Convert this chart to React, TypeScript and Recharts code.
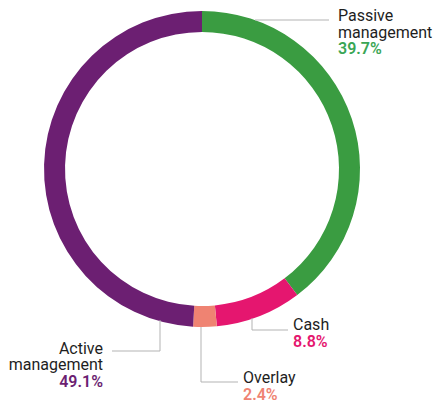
import React from "react";
import { PieChart, Pie, Cell } from "recharts";

const categories = ["Passive management", "Cash", "Overlay", "Active management"];
const values = [39.7, 8.8, 2.4, 49.1];
const valueLabels = ["39.7%", "8.8%", "2.4%", "49.1%"];

const colors = ["#3a9c41", "#e5166f", "#ef8372", "#6c1f72"];
const textColors = ["#3aa655", "#e5166f", "#ef8372", "#6c1f72"];

const data = categories.map((name, i) => ({ name, value: values[i] }));

type LabelLayout = {
  line: number[][];
  x: number;
  y: number;
  anchor: "start" | "end";
  lines: string[];
};

const labelLayout: LabelLayout[] = [
  { line: [[255, 20], [329, 20]], x: 338, y: 21, anchor: "start", lines: ["Passive", "management"] },
  { line: [[252, 318], [252, 330], [288, 330]], x: 293, y: 330, anchor: "start", lines: ["Cash"] },
  { line: [[201, 327], [201, 382], [238, 382]], x: 243, y: 383, anchor: "start", lines: ["Overlay"] },
  { line: [[160, 320], [160, 351], [112, 351]], x: 103, y: 353.5, anchor: "end", lines: ["Active", "management"] },
];

const LH = 16.6;

const renderLabel = (props: any) => {
  const i = props.index as number;
  const l = labelLayout[i];
  const pts = l.line.map((p) => p.join(",")).join(" ");
  const all = [...l.lines, valueLabels[i]];
  return (
    <g key={`lbl-${i}`}>
      <polyline points={pts} fill="none" stroke="#b3b3b3" strokeWidth={1} />
      {all.map((t, k) => {
        const isVal = k === all.length - 1;
        return (
          <text
            key={k}
            x={l.x}
            y={l.y + k * LH}
            textAnchor={l.anchor}
            fontFamily="Roboto, sans-serif"
            fontSize={16}
            fontWeight={isVal ? 600 : 400}
            fill={isVal ? textColors[i] : "#1e1e1e"}
          >
            {t}
          </text>
        );
      })}
    </g>
  );
};

export default function App() {
  return (
    <div style={{ position: "absolute", left: 0, top: 0, width: 435, height: 403, background: "#fff" }}>
      <PieChart width={435} height={403} margin={{ top: 0, right: 0, bottom: 0, left: 0 }}>
        <Pie
          data={data}
          dataKey="value"
          nameKey="name"
          cx={202}
          cy={169}
          innerRadius={137}
          outerRadius={158}
          startAngle={90}
          endAngle={-270}
          stroke="none"
          isAnimationActive={false}
          label={renderLabel}
          labelLine={false}
        >
          {data.map((d, i) => (
            <Cell key={d.name} fill={colors[i]} />
          ))}
        </Pie>
      </PieChart>
    </div>
  );
}
